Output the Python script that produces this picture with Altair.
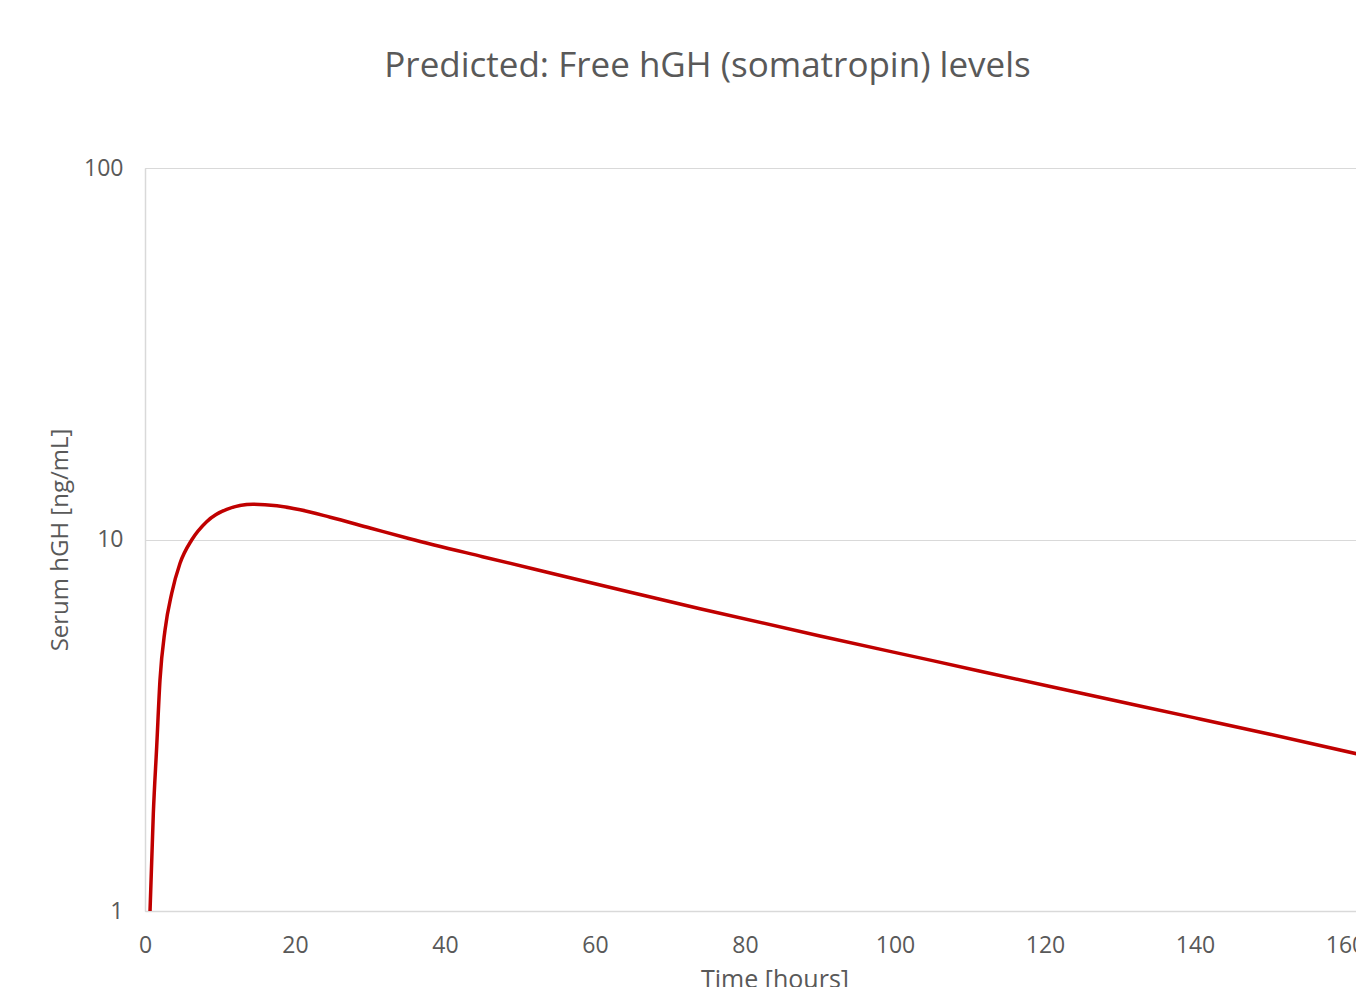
import altair as alt
import pandas as pd

# Time [hours]
time_h = [0.67, 1.11, 1.56, 2.0, 2.67, 3.56, 4.67, 6.22, 8.22, 10.9, 14.4, 17.6,
          20.7, 24.7, 30, 35.3, 45, 55, 65, 74, 90, 105, 120.7, 127.3, 140, 150, 163]
# Serum hGH [ng/mL]
serum = [1.0, 1.83, 2.77, 4.19, 5.71, 7.16, 8.63, 9.97, 11.17, 12.06, 12.44, 12.32,
         12.02, 11.48, 10.74, 10.05, 8.99, 8.04, 7.19, 6.51, 5.50, 4.72, 4.02, 3.76, 3.31, 2.99, 2.61]

x_ticks = [0, 20, 40, 60, 80, 100, 120, 140, 160]
y_ticks = [1, 10, 100]

df = pd.DataFrame({"t": time_h, "v": serum})

FONT = "Open Sans"
GRAY = "#595959"

chart = alt.Chart(df).mark_line(
    color="#c00000", strokeWidth=3.5, interpolate="monotone", clip=True
).encode(
    x=alt.X("t:Q", scale=alt.Scale(domain=[0, 161.47], nice=False, zero=False),
            axis=alt.Axis(values=x_ticks, title="Time [hours]", grid=False,
                          ticks=False, tickSize=0, labelPadding=23,
                          titleX=629.5, titleY=76, titleBaseline="alphabetic",
                          titleAlign="center",
                          domainColor="#d9d9d9", domainWidth=1.5,
                          labelFont=FONT, labelFontSize=23, labelColor=GRAY,
                          titleFont=FONT, titleFontSize=25, titleColor=GRAY,
                          titleFontWeight="normal", labelFlush=False)),
    y=alt.Y("v:Q", scale=alt.Scale(type="log", domain=[1, 100], nice=False),
            axis=alt.Axis(values=y_ticks, title="Serum hGH [ng/mL]", grid=True,
                          gridColor="#d9d9d9", gridWidth=1.2,
                          ticks=False, tickSize=0, labelPadding=22, titlePadding=11,
                          domainColor="#d9d9d9", domainWidth=1.5, format="d",
                          labelFont=FONT, labelFontSize=23, labelColor=GRAY,
                          titleFont=FONT, titleFontSize=24, titleColor=GRAY,
                          titleFontWeight="normal", labelFlush=False)),
).properties(
    width=1211,
    height=743,
    title=alt.TitleParams("Predicted: Free hGH (somatropin) levels", font=FONT,
                          fontSize=35, color=GRAY, fontWeight="normal",
                          anchor="middle", frame="group", baseline="alphabetic",
                          offset=45, dx=-43),
    autosize=alt.AutoSizeParams(type="none"),
    padding={"left": 137, "top": 160, "right": 0, "bottom": 76},
).configure_view(stroke=None).configure(background="white")

chart.save("out.html", embed_options={"renderer": "svg", "actions": False})
